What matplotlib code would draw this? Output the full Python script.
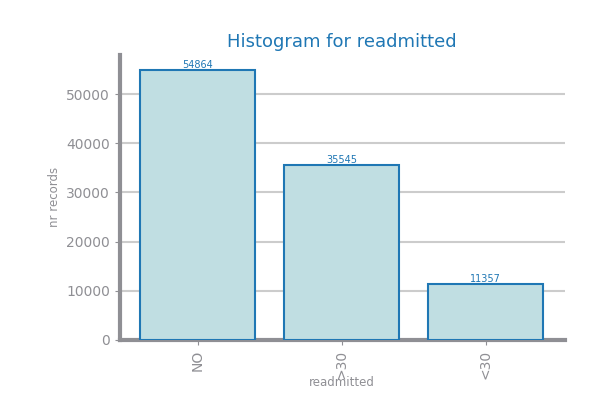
import matplotlib
matplotlib.use('Agg')
import matplotlib.pyplot as plt

categories = ['NO', '>30', '<30']
counts = [54864, 35545, 11357]

blue = '#1f77b4'
gray = '#8f8f94'
fig = plt.figure(figsize=(6.08, 4.19), dpi=100)
ax = fig.add_axes([0.197, 0.189, 0.732, 0.68])
x = range(len(categories))
ax.bar(x, counts, width=0.8, color='#c0dee2', edgecolor=blue, linewidth=1.5, zorder=3)
for xi, c in zip(x, counts):
    ax.text(xi, c, str(c), ha='center', va='bottom', fontsize=7, color=blue, zorder=4)
ax.set_xticks(list(x))
ax.set_xticklabels(categories, rotation=90, fontsize=10, color=gray)
ax.set_xlim(-0.54, 2.55)
ax.set_ylim(0, 58000)
ax.set_yticks([0, 10000, 20000, 30000, 40000, 50000])
ax.tick_params(axis='y', labelsize=10, labelcolor=gray, color=gray)
ax.tick_params(axis='x', color=gray)
ax.yaxis.grid(True, color='#cccccc', linewidth=1.5, zorder=0)
for s in ['top', 'right']:
    ax.spines[s].set_visible(False)
for s in ['left', 'bottom']:
    ax.spines[s].set_color(gray)
    ax.spines[s].set_linewidth(3)
ax.set_title('Histogram for readmitted', color=blue, fontsize=13)
ax.set_xlabel('readmitted', color=gray, fontsize=8.5, labelpad=-2)
ax.set_ylabel('nr records', color=gray, fontsize=8.5)
fig.savefig('out.png', dpi=100)
